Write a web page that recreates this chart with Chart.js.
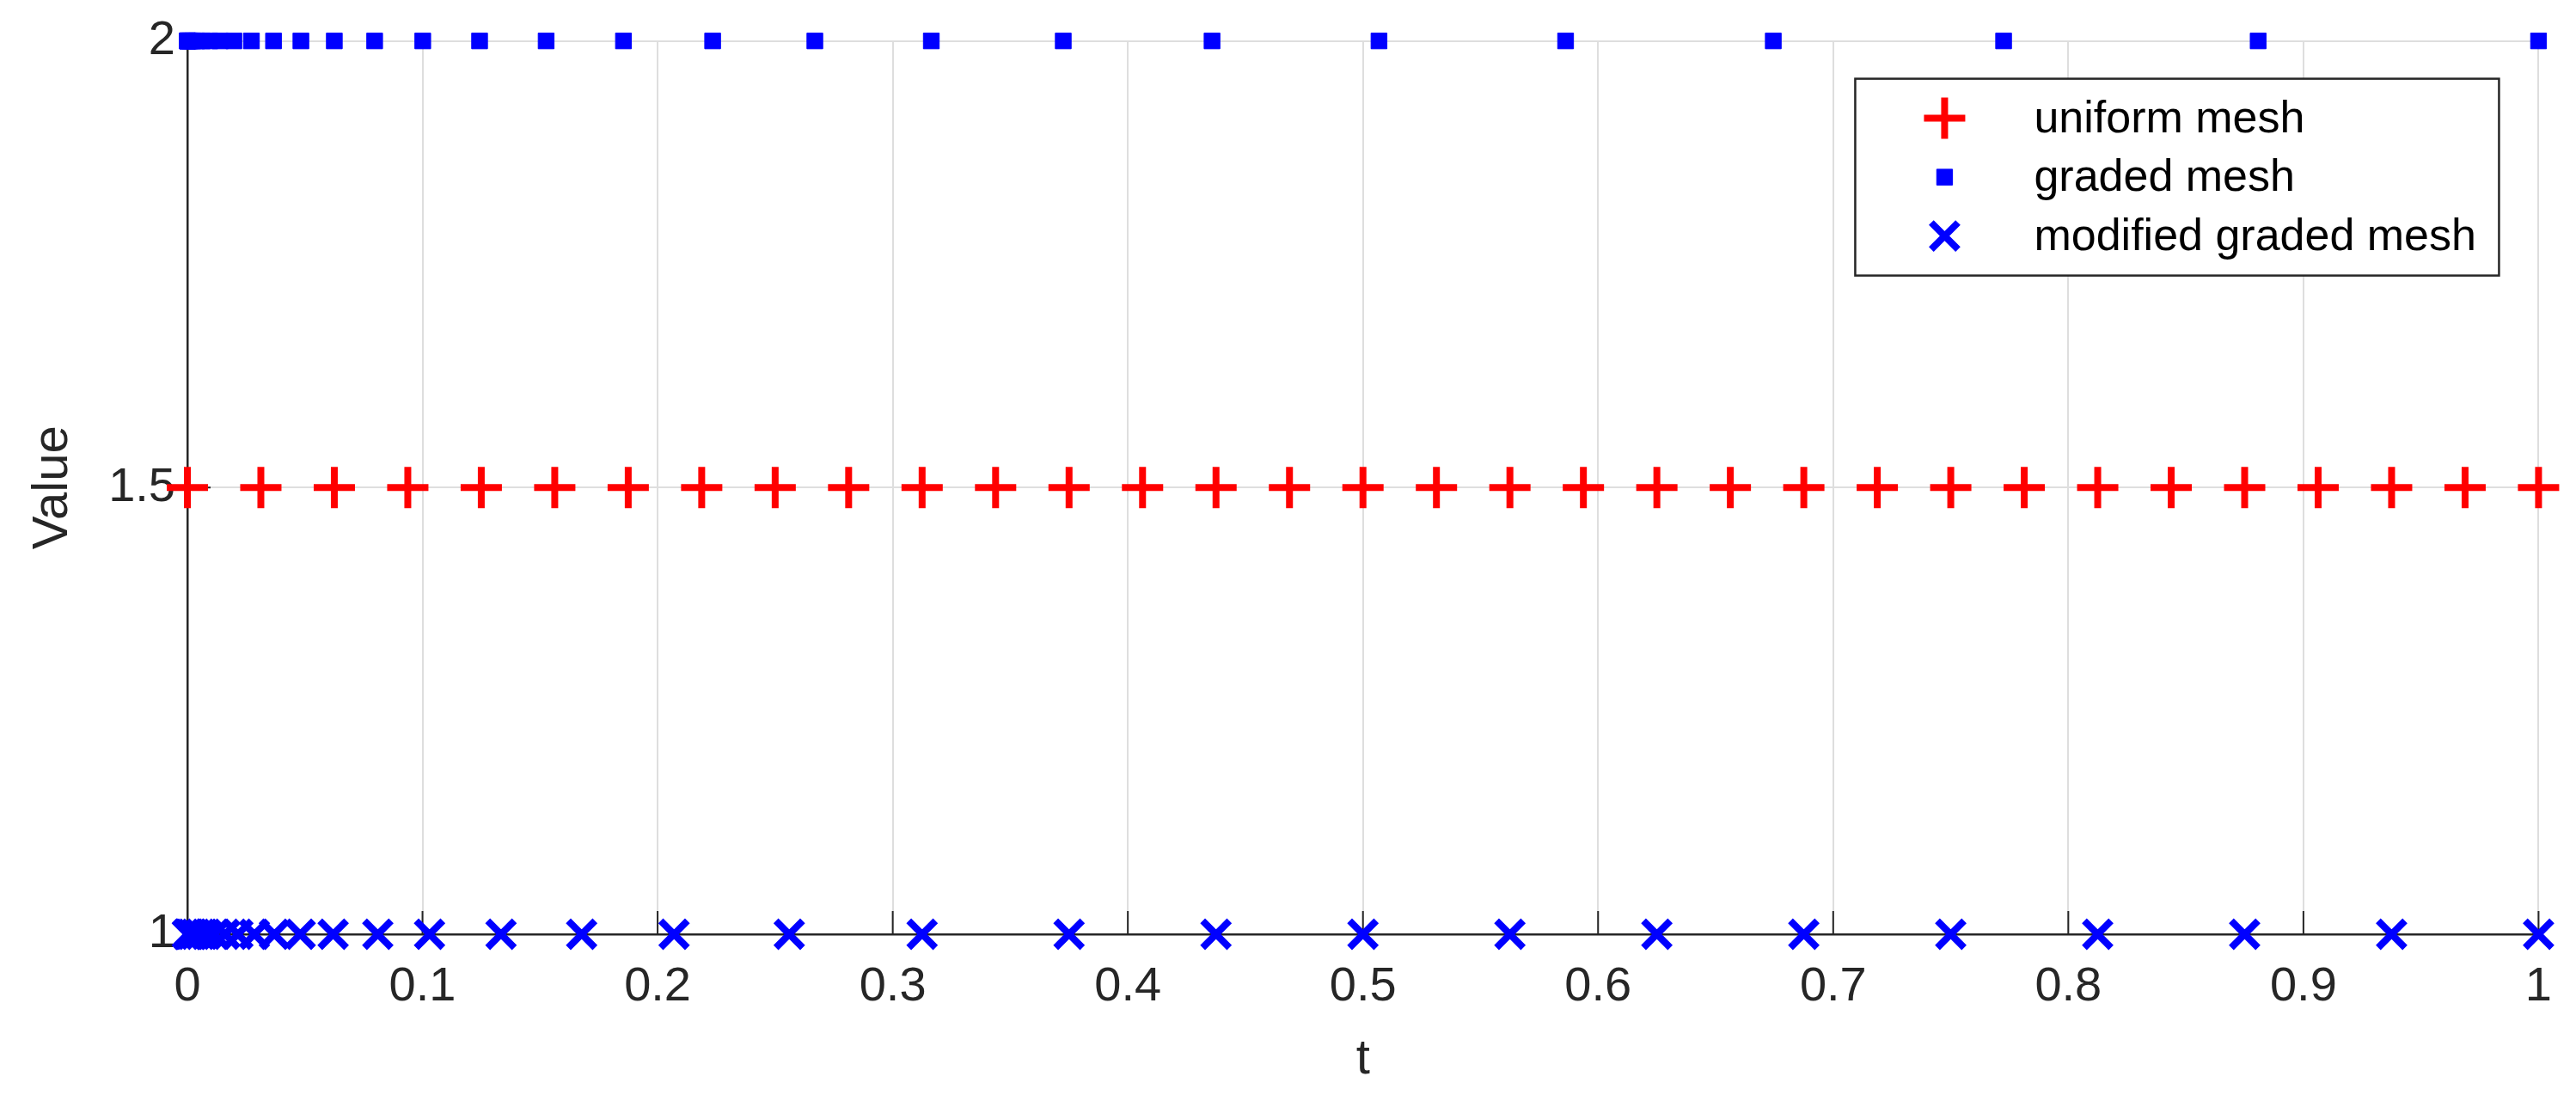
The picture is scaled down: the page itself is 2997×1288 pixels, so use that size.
<!DOCTYPE html>
<html>
<head>
<meta charset="utf-8">
<title>Mesh points</title>
<script src="https://cdn.jsdelivr.net/npm/chart.js@4.4.1/dist/chart.umd.min.js"></script>
<style>
  html, body { margin: 0; padding: 0; background: #ffffff; }
  #wrap { width: 2997px; height: 1288px; }
</style>
</head>
<body>
<div id="wrap"><canvas id="meshChart" width="2997" height="1288"></canvas></div>
<script>
// mesh nodes
const uniformT = [
  0, 0.03125, 0.0625, 0.09375, 0.125, 0.15625, 0.1875, 0.21875, 0.25, 0.28125,
  0.3125, 0.34375, 0.375, 0.40625, 0.4375, 0.46875, 0.5, 0.53125, 0.5625, 0.59375,
  0.625, 0.65625, 0.6875, 0.71875, 0.75, 0.78125, 0.8125, 0.84375, 0.875, 0.90625,
  0.9375, 0.96875, 1,
];
const gradedT = [
  0, 0.000001, 0.000015, 0.000077, 0.000244, 0.000596, 0.001236, 0.00229, 0.003906,
  0.006257, 0.009537, 0.013963, 0.019775, 0.027238, 0.036636, 0.04828, 0.0625,
  0.079652, 0.100113, 0.124284, 0.152588, 0.185472, 0.223404, 0.266877, 0.316406,
  0.372529, 0.435806, 0.506821, 0.586182, 0.674516, 0.772476, 0.880738, 1,
];
const modifiedT = [
  0, 0.0001, 0.0004, 0.001, 0.002, 0.0035, 0.0055, 0.008, 0.0115, 0.016, 0.0215,
  0.0285, 0.037, 0.048, 0.062, 0.081, 0.103, 0.1334, 0.1677, 0.207, 0.256,
  0.3125, 0.375, 0.4375, 0.5, 0.5625, 0.625, 0.6875, 0.75, 0.8125, 0.875, 0.9375, 1,
];

const seriesLabels = ["uniform mesh", "graded mesh", "modified graded mesh"];
const seriesLevels = [1.5, 2, 1];

const xTickValues = [0, 0.1, 0.2, 0.3, 0.4, 0.5, 0.6, 0.7, 0.8, 0.9, 1];
const xTickLabels = ["0", "0.1", "0.2", "0.3", "0.4", "0.5", "0.6", "0.7", "0.8", "0.9", "1"];
const yTickValues = [1, 1.5, 2];
const yTickLabels = ["1", "1.5", "2"];

const fontFamily = '"Liberation Sans", Arial, Helvetica, sans-serif';
const textColor = "#262626";
const gridColor = "#dedede";

// MATLAB style ticks pointing into the axes
const inwardTicksPlugin = {
  id: "inwardTicks",
  beforeDatasetsDraw(chart) {
    const { ctx, chartArea, scales } = chart;
    ctx.save();
    ctx.strokeStyle = textColor;
    ctx.lineWidth = 2;
    ctx.beginPath();
    xTickValues.forEach((value) => {
      const px = scales.x.getPixelForValue(value);
      ctx.moveTo(px, chartArea.bottom);
      ctx.lineTo(px, chartArea.bottom - 27);
    });
    yTickValues.forEach((value) => {
      const py = scales.y.getPixelForValue(value);
      ctx.moveTo(chartArea.left, py);
      ctx.lineTo(chartArea.left + 27, py);
    });
    ctx.stroke();
    ctx.restore();
  },
};

// boxed legend inside the top right corner of the axes
const legendBoxPlugin = {
  id: "legendBox",
  afterDatasetsDraw(chart) {
    const { ctx, chartArea } = chart;
    const boxW = 749;
    const boxH = 229;
    const left = chartArea.right - 46 - boxW;
    const top = chartArea.top + 44;

    ctx.save();
    ctx.fillStyle = "#ffffff";
    ctx.fillRect(left, top, boxW, boxH);
    ctx.strokeStyle = textColor;
    ctx.lineWidth = 2.5;
    ctx.strokeRect(left, top, boxW, boxH);

    chart.data.datasets.forEach((ds, i) => {
      const y = top + 46 + i * 68.5;
      ctx.strokeStyle = ds.borderColor;
      ctx.fillStyle = ds.backgroundColor;
      ctx.lineWidth = ds.pointBorderWidth;
      Chart.helpers.drawPoint(ctx, {
        pointStyle: ds.pointStyle,
        radius: ds.pointRadius,
        rotation: 0,
        borderWidth: ds.pointBorderWidth,
      }, left + 104, y);

      ctx.fillStyle = "#000000";
      ctx.font = `52px ${fontFamily}`;
      ctx.textAlign = "left";
      ctx.textBaseline = "middle";
      ctx.fillText(ds.label, left + 208, y + 2);
    });
    ctx.restore();
  },
};

function toPoints(ts, level) {
  return ts.map((t) => ({ x: t, y: level }));
}

new Chart(document.getElementById("meshChart"), {
  type: "scatter",
  plugins: [inwardTicksPlugin, legendBoxPlugin],
  data: {
    datasets: [
      {
        label: seriesLabels[0],
        data: toPoints(uniformT, seriesLevels[0]),
        pointStyle: "cross",
        pointRadius: 24,
        pointBorderWidth: 8,
        borderColor: "#ff0000",
        backgroundColor: "#ff0000",
        showLine: false,
        clip: false,
      },
      {
        label: seriesLabels[1],
        data: toPoints(gradedT, seriesLevels[1]),
        pointStyle: "rect",
        pointRadius: 13,
        pointBorderWidth: 1,
        borderColor: "#0000ff",
        backgroundColor: "#0000ff",
        showLine: false,
        clip: false,
      },
      {
        label: seriesLabels[2],
        data: toPoints(modifiedT, seriesLevels[2]),
        pointStyle: "crossRot",
        pointRadius: 22,
        pointBorderWidth: 8,
        borderColor: "#0000ff",
        backgroundColor: "#0000ff",
        showLine: false,
        clip: false,
      },
    ],
  },
  options: {
    responsive: false,
    animation: false,
    events: [],
    devicePixelRatio: 1,
    layout: {
      padding: { top: 46, right: 42, bottom: 0, left: 0 },
    },
    scales: {
      x: {
        type: "linear",
        min: 0,
        max: 1,
        afterBuildTicks: (scale) => {
          scale.ticks = xTickValues.map((value) => ({ value }));
        },
        afterFit: (scale) => {
          scale.height = 201;
        },
        ticks: {
          callback: (_value, index) => xTickLabels[index],
          color: textColor,
          font: { family: fontFamily, size: 56 },
          padding: 28,
          maxRotation: 0,
          autoSkip: false,
        },
        grid: { color: gridColor, lineWidth: 2, drawTicks: false },
        border: { display: true, color: textColor, width: 2.5 },
        title: {
          display: true,
          text: "t",
          color: textColor,
          font: { family: fontFamily, size: 58 },
          padding: { top: 0, bottom: 20 },
        },
      },
      y: {
        type: "linear",
        min: 1,
        max: 2,
        afterBuildTicks: (scale) => {
          scale.ticks = yTickValues.map((value) => ({ value }));
        },
        afterFit: (scale) => {
          scale.width = 218;
        },
        ticks: {
          callback: (_value, index) => yTickLabels[index],
          color: textColor,
          font: { family: fontFamily, size: 56 },
          padding: 14,
        },
        grid: { color: gridColor, lineWidth: 2, drawTicks: false },
        border: { display: true, color: textColor, width: 2.5 },
        title: {
          display: true,
          text: "Value",
          color: textColor,
          font: { family: fontFamily, size: 58 },
          padding: { top: 27, bottom: 0 },
        },
      },
    },
    plugins: {
      legend: { display: false },
      tooltip: { enabled: false },
    },
  },
});
</script>
</body>
</html>
